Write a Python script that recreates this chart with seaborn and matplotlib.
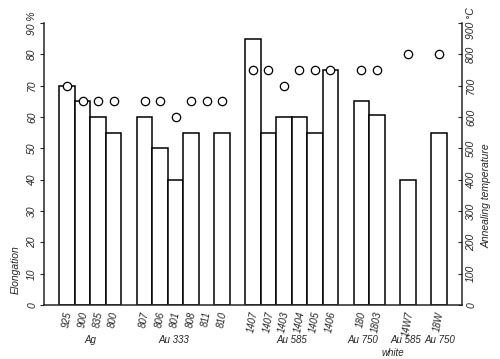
import numpy as np
import pandas as pd
import matplotlib
matplotlib.use("Agg")
import matplotlib.pyplot as plt
import seaborn as sns

# alloy groups and sample codes (one gap slot between groups)
group_names = ["Ag", "Au 333", "Au 585", "Au 750", "Au 585", "Au 750"]
group_codes = [
    ["925", "900", "835", "800"],
    ["807", "806", "801", "808", "811", "810"],
    ["1407", "1407", "1403", "1404", "1405", "1406"],
    ["180", "1803"],
    ["14W7"],
    ["18W"],
]
# elongation in %, None = no bar
group_elong = [
    [70, 65, 60, 55],
    [60, 50, 40, 55, None, 55],
    [85, 55, 60, 60, 55, 75],
    [65, 60.5],
    [40],
    [55],
]
# annealing temperature in degC
group_temp = [
    [700, 650, 650, 650],
    [650, 650, 600, 650, 650, 650],
    [750, 750, 700, 750, 750, 750],
    [750, 750],
    [800],
    [800],
]

# build the slot table: gap, group, gap, group, ..., gap
rows = []
order = []
tick_text = []
group_center = []
gap_id = 0
order.append(f"gap{gap_id}"); tick_text.append("")
for gi, codes in enumerate(group_codes):
    start = len(order)
    for ci, code in enumerate(codes):
        slot = f"{gi}_{ci}"
        order.append(slot)
        tick_text.append(code)
        rows.append({"slot": slot, "elong": group_elong[gi][ci], "temp": group_temp[gi][ci]})
    group_center.append((start + len(order) - 1) / 2)
    gap_id += 1
    order.append(f"gap{gap_id}"); tick_text.append("")
df = pd.DataFrame(rows)
df["elong"] = df["elong"].astype(float)

sns.set_style("ticks")
plt.rcParams["font.family"] = ["Liberation Sans", "DejaVu Sans"]

fig = plt.figure(figsize=(5.0, 3.59), dpi=100)
ax = fig.add_axes([0.088, 0.150, 0.836, 0.786])

bars = df.dropna(subset=["elong"])
sns.barplot(data=bars, x="slot", y="elong", order=order, width=1.0,
            color="white", edgecolor="black", linewidth=1.1, ax=ax)

ax.set_xlim(-0.5, len(order) - 0.5)
ax.set_ylim(0, 90)
ax.set_yticks(range(0, 91, 10))
ax.set_yticklabels([str(v) for v in range(0, 90, 10)] + ["90 %"],
                   rotation=90, va="center", style="italic", fontsize=7.5)
ax.set_xticks(range(len(order)))
ax.set_xticklabels(tick_text, rotation=80, style="italic", fontsize=7, ha="center")
ax.tick_params(axis="x", length=0, pad=4)
ax.tick_params(axis="y", length=3, width=0.8, pad=2, direction="out")
ax.set_xlabel("")
ax.set_ylabel("")
ax.spines["top"].set_visible(False)
ax.spines["right"].set_visible(False)
for s in ["left", "bottom"]:
    ax.spines[s].set_linewidth(1.1)

ax2 = ax.twinx()
sns.stripplot(data=df, x="slot", y="temp", order=order, jitter=False,
              marker="o", size=6, color="white", edgecolor="black", linewidth=0.9,
              ax=ax2, zorder=5)
ax2.set_xlim(-0.5, len(order) - 0.5)
ax2.set_ylim(0, 900)
ax2.set_yticks(range(0, 901, 100))
ax2.set_yticklabels([str(v) for v in range(0, 900, 100)] + ["900 °C"],
                    rotation=90, va="center", style="italic", fontsize=7.5)
ax2.tick_params(axis="y", length=3, width=0.8, pad=3, direction="in")
ax2.set_ylabel("")
ax2.set_xlabel("")
ax2.spines["top"].set_visible(False)
ax2.spines["left"].set_visible(False)
ax2.spines["bottom"].set_visible(False)
ax2.spines["right"].set_linewidth(1.1)

# group labels under the sample codes (nudged a little as in the original)
nudge = [0, -0.6, 0, -0.4, -0.1, 0.1]
for name, cx, dx in zip(group_names, group_center, nudge):
    ax.text(cx + dx, -0.125, name, transform=ax.get_xaxis_transform(),
            ha="center", va="center", style="italic", fontsize=7)
ax.text(22, -0.17, "white", transform=ax.get_xaxis_transform(),
        ha="center", va="center", style="italic", fontsize=7)

fig.text(16 / 500, 1 - 270 / 359, "Elongation", rotation=90, ha="center", va="center",
         style="italic", fontsize=7.5)
fig.text(487 / 500, 1 - 196 / 359, "Annealing temperature", rotation=90, ha="center",
         va="center", style="italic", fontsize=7.5)

fig.savefig("out.png", dpi=100, facecolor="white")
